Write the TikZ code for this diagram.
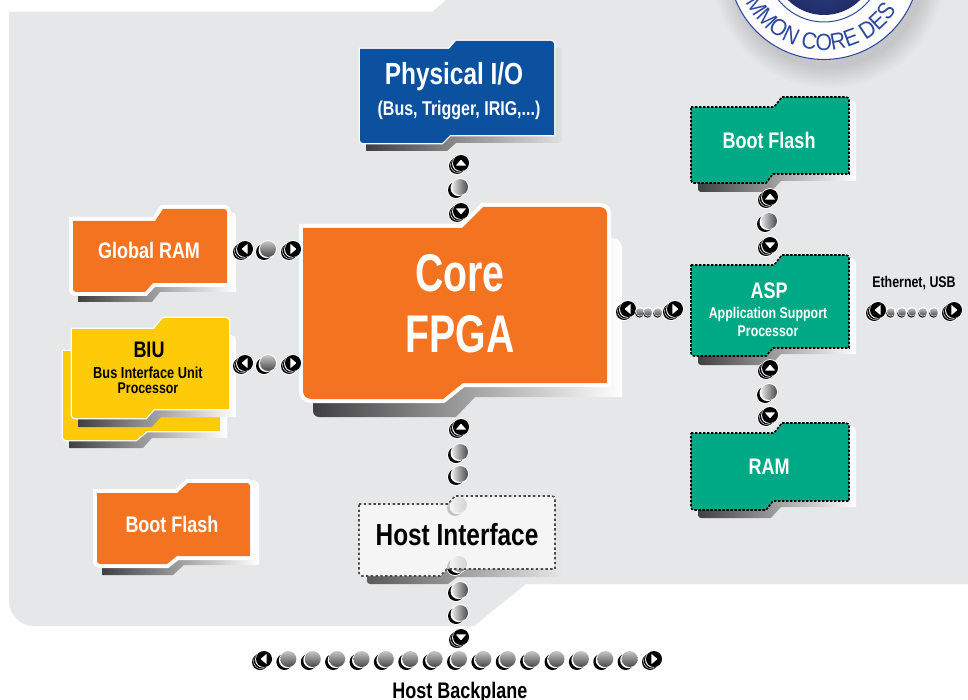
\documentclass[tikz,border=0pt]{standalone}
\usepackage{fontspec}
\usetikzlibrary{decorations.text}
\newfontfamily\condf{Liberation Sans}[FakeStretch=0.8]
\newfontfamily\coref{Liberation Sans}[FakeStretch=0.74]
\newfontfamily\logof{Liberation Sans}[FakeStretch=0.9]
\newcommand\cf[1]{\condf\bfseries\fontsize{#1}{#1}\selectfont}
\definecolor{bgc}{HTML}{E6E7E8}
\definecolor{orangec}{HTML}{F47321}
\definecolor{yellowc}{HTML}{FFCB08}
\definecolor{greenc}{HTML}{00A985}
\definecolor{bluec}{HTML}{0B519F}
\definecolor{logoc}{HTML}{2E4A9E}
\definecolor{navyc}{HTML}{1F2C68}
\definecolor{navyl}{HTML}{3A4C8C}
\definecolor{sd}{HTML}{404042}
\definecolor{sm}{HTML}{A7A9AC}
\tikzset{
  x=1pt,y=-1pt,
  shadowbox/.style={left color=sd,middle color=sm,right color=#1},
  shadowbox/.default=white,
  outlined/.style 2 args={preaction={draw=white,line width=#1},fill=#2},
  greenedge/.style={draw=black,line width=1.6,dash pattern=on 2.4pt off 1.6pt},
  hostedge/.style={draw=black!70,line width=1.6,dash pattern=on 2.4pt off 2.4pt},
  lbl/.style={align=center,inner sep=0,text=white},
  lblk/.style={align=center,inner sep=0,text=black},
  beadcommon/.pic={
    \fill[white] (-4,3) circle (8.9);
    \fill[white] (0,0) circle (8.9);
    \fill[black] (-4,3) circle (8);
  },
  beadv/.pic={
    \pic {beadcommon};
    \fill[white] (-1.5,1.1) circle (8);
    \shade[left color=black!10,right color=black!72] (0,0) circle (8);
  },
  beadh/.pic={
    \pic {beadcommon};
    \fill[white] (-1.5,1.1) circle (8);
    \shade[top color=black!22,bottom color=black!72] (0,0) circle (8);
  },
  beadarrow/.pic={
    \pic {beadcommon};
    \fill[white] (-2.9,2.1) circle (7.8);
    \fill[black] (-2.2,1.6) circle (8);
    \fill[white] (-.9,.65) circle (8);
    \fill[black] (0,0) circle (8);
    \fill[white,rotate=#1,rounded corners=.6] (-5.2,2.6) -- (5.2,2.6) -- (0,-3.4) -- cycle;
  },
  beadsmall/.pic={
    \fill[white] (0,0) circle (5.2);
    \fill[black] (-.6,1.4) circle (4.2);
    \fill[white] (-.2,.5) circle (4);
    \shade[top color=black!25,bottom color=black!70] (0,0) circle (3.8);
  },
}
\begin{document}
\begin{tikzpicture}
\useasboundingbox (0,0) rectangle (968,700);
\clip (0,0) rectangle (968,700);
\fill[white] (0,0) rectangle (968,700);
% background panel
\fill[bgc] (9,12) -- (432,12) -- (446,0) -- (968,0) -- (968,584) -- (526,584) -- (474,626)
  [rounded corners=25] -- (9,626) [sharp corners] -- cycle;
% logo
\foreach \r in {96,98,...,116} {\fill[black,opacity=.010] (829,-28) circle (\r);}
\fill[white] (824,-36) circle (96);
\draw[logoc,line width=1.1] (824,-36) circle (95.5);
\draw[logoc,line width=1] (824,-36) circle (58);
\shade[inner color=navyl,outer color=navyc] (824,-36) circle (51);
\begin{scope}[shift={(824,-36)},x=1pt,y=1pt]
  \path[decorate,decoration={text along path,
    text={|\logof\fontsize{23.5}{24}\selectfont\color{logoc}|MMON CORE DES}}]
    (206:86.5) arc[start angle=206,end angle=350,radius=86.5];
\end{scope}

% Physical I/O
\shade[shadowbox={black!12}] (366,135) -- (366,151) -- (447,151) -- (456,143) -- (562,143) -- (562,48) -- (540,48) -- cycle;
\path[outlined={2.6}{bluec}] (360,49) -- (449,49) -- (456,41) [rounded corners=3] -- (554,41) [sharp corners] -- (554,135) -- (450,135) -- (442,143) [rounded corners=3] -- (360,143) [sharp corners] -- cycle;
\node[lbl] (phys) at (454,77) {\cf{30.5}Physical I/O};
\node[lbl] (physsub) at (459,110) {\cf{20}(Bus, Trigger, IRIG,...)};

% Global RAM
\shade[shadowbox] (78,285) -- (78,302) -- (152,302) -- (160,292) -- (236,292) [rounded corners=5] -- (236,212) [sharp corners] -- (220,212) -- cycle;
\path[outlined={8}{orangec}] (73,221) -- (155,221) -- (163,209) [rounded corners=3] -- (227,209) [sharp corners] -- (227,283) -- (153,283) -- (145,292) [rounded corners=3] -- (73,292) [sharp corners] -- cycle;
\node[lbl] (gram) at (149,250) {\cf{22.5}Global RAM};

% BIU back
\shade[shadowbox] (69,430) -- (69,448) -- (143,448) -- (152,438) -- (227,438) -- (227,380) -- (210,380) -- cycle;
\path[outlined={2.6}{yellowc}] (63,351) -- (220,351) -- (220,431) -- (147,431) -- (136,440) [rounded corners=3] -- (63,440) [sharp corners] -- cycle;
% BIU front
\shade[shadowbox] (78,410) -- (78,427) -- (152,427) -- (161,417) -- (236,417) [rounded corners=5] -- (236,335) [sharp corners] -- (220,335) -- cycle;
\path[outlined={2.6}{yellowc}] (72,329) -- (154,329) -- (163,318) [rounded corners=3] -- (229,318) [sharp corners] -- (229,409) -- (154,409) -- (146,418) [rounded corners=3] -- (72,418) [sharp corners] -- cycle;
\node[lblk] (biu) at (149,350) {\cf{22.5}BIU};
\node[lblk] (biusub) at (148,380.5) {\cf{16}Bus Interface Unit\\[3.5pt]\cf{15.5}Processor};

% Boot Flash orange
\shade[shadowbox] (102,558) -- (102,575) -- (173,575) -- (184,565) -- (259,565) [rounded corners=6] -- (259,480) [sharp corners] -- (240,480) -- cycle;
\path[outlined={8}{orangec}] (97,493) -- (177,493) -- (188,483) [rounded corners=3] -- (250,483) [sharp corners] -- (250,556) -- (177,556) -- (167,564) [rounded corners=3] -- (97,564) [sharp corners] -- cycle;
\node[lbl] (bootl) at (172,524) {\cf{22.5}Boot Flash};

% Core FPGA
\shade[shadowbox] (313,395) [rounded corners=6] -- (313,417) [sharp corners] -- (456,417) -- (475,397) -- (622,397) [rounded corners=10] -- (622,238) [sharp corners] -- (600,238) -- cycle;
\path[outlined={8}{orangec}] (303,228) -- (462,228) -- (483,207) [rounded corners=7] -- (607,207) [sharp corners] -- (607,383) -- (463,383) -- (443,399) [rounded corners=8] -- (303,399) [sharp corners] -- cycle;
\node[lbl,font=\coref\bfseries\fontsize{53}{61}\selectfont] (core) at (460,304) {Core\\FPGA};

% Green Boot Flash
\shade[shadowbox] (698,175) [rounded corners=3] -- (698,192) [sharp corners] -- (771,192) -- (781,181) -- (856,181) [rounded corners=5] -- (856,100) [sharp corners] -- (840,100) -- cycle;
\path[fill=greenc,greenedge] (691,107) -- (774,107) -- (782,97) [rounded corners=3] -- (849,97) [sharp corners] -- (849,174) -- (773,174) -- (766,183) [rounded corners=3] -- (691,183) [sharp corners] -- cycle;
\node[lbl] (bootr) at (769,140) {\cf{22.5}Boot Flash};

% ASP
\shade[shadowbox] (698,348) [rounded corners=3] -- (698,365) [sharp corners] -- (771,365) -- (781,354) -- (856,354) [rounded corners=5] -- (856,258) [sharp corners] -- (840,258) -- cycle;
\path[fill=greenc,greenedge] (691,265) -- (774,265) -- (782,255) [rounded corners=3] -- (849,255) [sharp corners] -- (849,348) -- (773,348) -- (766,356) [rounded corners=3] -- (691,356) [sharp corners] -- cycle;
\node[lbl] (asp) at (769,291) {\cf{22.5}ASP};
\node[lbl] (aspsub) at (768,322) {\cf{15.5}Application Support\\[2.5pt]\cf{15.5}Processor};

% RAM
\shade[shadowbox] (698,502) [rounded corners=3] -- (698,518) [sharp corners] -- (771,518) -- (781,507) -- (856,507) [rounded corners=5] -- (856,426) [sharp corners] -- (840,426) -- cycle;
\path[fill=greenc,greenedge] (691,433) -- (774,433) -- (782,423) [rounded corners=3] -- (849,423) [sharp corners] -- (849,501) -- (773,501) -- (766,510) [rounded corners=3] -- (691,510) [sharp corners] -- cycle;
\node[lbl] (ram) at (769,467) {\cf{22.5}RAM};

% Host Interface: the chain runs behind the translucent box
\shade[left color=black!65,middle color=sm,right color=black!10] (367,570) [rounded corners=3] -- (367,584) [sharp corners] -- (448,584) -- (457,577) -- (561,577) -- (561,507) -- (545,507) -- cycle;
\fill[black!4] (359,504) -- (448,504) -- (455,496) [rounded corners=3] -- (555,496) [sharp corners] -- (555,569) -- (447,569) -- (440,576) [rounded corners=3] -- (359,576) [sharp corners] -- cycle;
\pic (h1) at (459,505) {beadv};
\pic (h2) at (459,564) {beadv};
\path[fill=black!4,fill opacity=.8] (359,504) -- (448,504) -- (455,496) [rounded corners=3] -- (555,496) [sharp corners] -- (555,569) -- (447,569) -- (440,576) [rounded corners=3] -- (359,576) [sharp corners] -- cycle;
\path[hostedge] (359,504) -- (448,504) -- (455,496) [rounded corners=3] -- (555,496) [sharp corners] -- (555,569) -- (447,569) -- (440,576) [rounded corners=3] -- (359,576) [sharp corners] -- cycle;
\node[lblk] (host) at (457,535) {\cf{30.5}Host Interface};

% Physical I/O <-> Core
\pic (p1) at (461,163) {beadarrow=0};
\pic (p2) at (460,187) {beadv};
\pic (p3) at (461,211) {beadarrow=180};
% Global RAM <-> Core
\pic (g1) at (245,249) {beadarrow=90};
\pic (g2) at (268,249) {beadh};
\pic (g3) at (293,249) {beadarrow=-90};
% BIU <-> Core
\pic (b1) at (245,363) {beadarrow=90};
\pic (b2) at (268,363) {beadh};
\pic (b3) at (293,363) {beadarrow=-90};
% Core <-> Host
\pic (c1) at (461,427) {beadarrow=0};
\pic (c2) at (460,452) {beadv};
\pic (c3) at (460,474) {beadv};
% Host <-> backplane
\pic (h3) at (460,590) {beadv};
\pic (h4) at (460,613) {beadv};
\pic (h5) at (461,637) {beadarrow=180};
% Core <-> ASP
\pic (a1) at (628,309) {beadarrow=90};
\foreach \i/\x in {1/640,2/648,3/658} {\pic (as\i) at (\x,312) {beadsmall};}
\pic (a2) at (675,309) {beadarrow=-90};
% Boot Flash <-> ASP
\pic (f1) at (770,197) {beadarrow=0};
\pic (f2) at (769,221) {beadv};
\pic (f3) at (770,245) {beadarrow=180};
% ASP <-> RAM
\pic (r1) at (770,368) {beadarrow=0};
\pic (r2) at (769,392) {beadv};
\pic (r3) at (770,415) {beadarrow=180};
% Ethernet, USB
\node[lblk] (eth) at (914,283) {\cf{15.5}Ethernet, USB};
\pic (e1) at (878,310) {beadarrow=90};
\foreach \i/\x in {1/891,2/902,3/912,4/923,5/934} {\pic (es\i) at (\x,312) {beadsmall};}
\pic (e2) at (954,310) {beadarrow=-90};
% Host Backplane
\pic (k0) at (264,659) {beadarrow=90};
\foreach \i in {1,...,15} {\pic (k\i) at ({264+\i*24.375},659) {beadh};}
\pic (k16) at (654,659) {beadarrow=-90};
\node[lblk,anchor=base] (back) at (460,698) {\cf{22.5}Host Backplane};
\end{tikzpicture}
\end{document}
